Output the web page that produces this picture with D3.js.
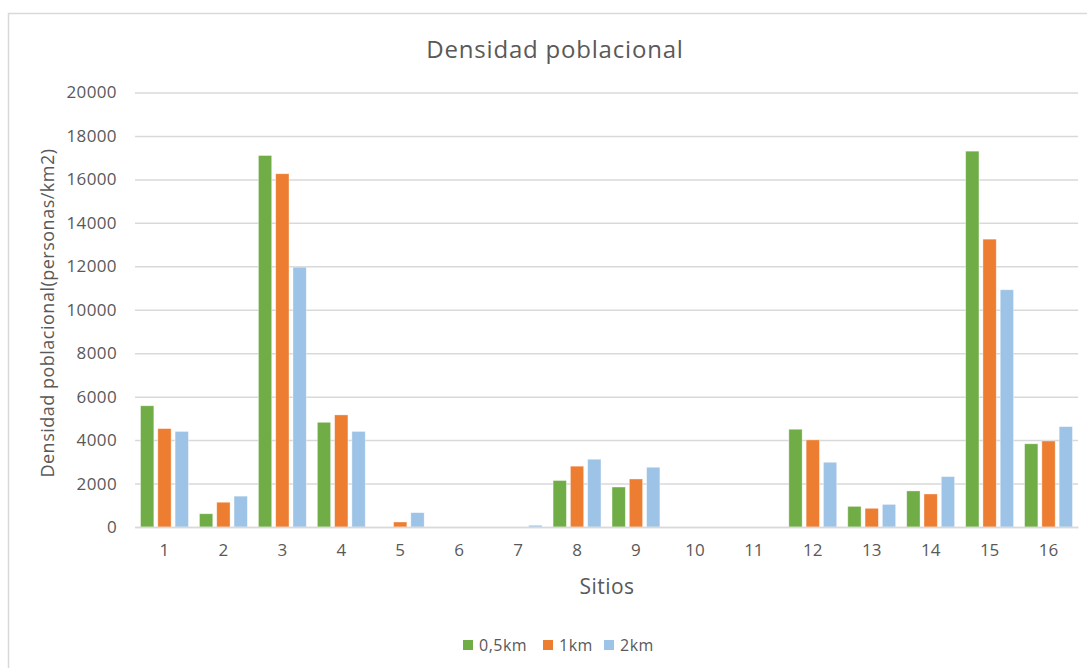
<!DOCTYPE html>
<html>
<head>
<meta charset="utf-8">
<script src="https://cdn.jsdelivr.net/npm/d3@7/dist/d3.min.js"></script>
<style>
  html, body { margin: 0; padding: 0; background: #fff; }
  svg { display: block; font-family: "Open Sans", "Noto Sans", sans-serif; }
</style>
</head>
<body>
<svg id="chart" width="1087" height="668"></svg>
<script>
// Sites on the x axis
const sitios = ["1","2","3","4","5","6","7","8","9","10","11","12","13","14","15","16"];
// Population density (personas/km2) within each buffer radius
const d05km = [5580, 610, 17100, 4820, 0, 0, 0, 2140, 1840, 0, 0, 4500, 950, 1660, 17300, 3830];
const d1km  = [4530, 1140, 16260, 5160, 230, 0, 0, 2800, 2210, 0, 0, 4010, 860, 1520, 13250, 3960];
const d2km  = [4400, 1420, 11960, 4400, 660, 0, 80, 3120, 2750, 0, 0, 2980, 1040, 2320, 10920, 4620];
const seriesNames = ["0,5km", "1km", "2km"];
const seriesColors = ["#70AD47", "#ED7D31", "#9DC3E6"];
const yTicks = [0, 2000, 4000, 6000, 8000, 10000, 12000, 14000, 16000, 18000, 20000];

const seriesValues = [d05km, d1km, d2km];
const rows = sitios.map((s, i) => ({ sitio: s, values: seriesValues.map(v => v[i]) }));

const svg = d3.select("#chart");
const textColor = "#595959";
const gridColor = "#D9D9D9";

// Chart frame
svg.append("rect")
  .attr("x", 8.5).attr("y", 13.5)
  .attr("width", 1090).attr("height", 670)
  .attr("fill", "#fff").attr("stroke", gridColor).attr("stroke-width", 1.5);

const plot = { left: 135, right: 1078, top: 92.5, bottom: 527 };

const x0 = d3.scaleBand().domain(sitios).range([plot.left, plot.right]).padding(0);
const x1 = d3.scaleBand().domain(seriesNames).range([0, x0.bandwidth()])
  .paddingInner(0.23).paddingOuter(0.32);
const y = d3.scaleLinear().domain([0, 20000]).range([plot.bottom, plot.top]);

// Horizontal gridlines and y tick labels
const yAxis = d3.axisLeft(y).tickValues(yTicks).tickFormat(d3.format("d"))
  .tickSize(-(plot.right - plot.left)).tickPadding(18);
const gy = svg.append("g").attr("transform", `translate(${plot.left},0)`).call(yAxis);
gy.select(".domain").remove();
gy.selectAll(".tick line").attr("stroke", gridColor).attr("stroke-width", 1.5);
gy.selectAll(".tick text").attr("fill", textColor).attr("font-size", 17)
  .attr("font-family", "'Open Sans', sans-serif").attr("letter-spacing", 0.4);

// Bars
const groups = svg.append("g").selectAll("g").data(rows).join("g")
  .attr("transform", d => `translate(${x0(d.sitio)},0)`);
groups.selectAll("rect")
  .data(d => d.values.map((v, k) => ({ key: seriesNames[k], value: v, color: seriesColors[k] })))
  .join("rect")
  .attr("x", d => x1(d.key))
  .attr("width", x1.bandwidth())
  .attr("y", d => y(d.value))
  .attr("height", d => y(0) - y(d.value))
  .attr("fill", d => d.color)
  .attr("stroke", "#fff").attr("stroke-opacity", 0.5).attr("stroke-width", 0.75);

// Category axis (baseline + labels)
const xAxis = d3.axisBottom(x0).tickSize(0).tickPadding(17);
const gx = svg.append("g").attr("transform", `translate(0,${plot.bottom})`).call(xAxis);
gx.select(".domain").attr("stroke", gridColor).attr("stroke-width", 1.5);
gx.selectAll(".tick text").attr("fill", textColor).attr("font-size", 17)
  .attr("font-family", "'Open Sans', sans-serif");

// Title
svg.append("text")
  .attr("x", 555).attr("y", 58)
  .attr("text-anchor", "middle")
  .attr("fill", textColor).attr("font-size", 24).attr("letter-spacing", 0.8)
  .text("Densidad poblacional");

// Axis titles
svg.append("text")
  .attr("transform", "translate(54,313) rotate(-90)")
  .attr("text-anchor", "middle")
  .attr("fill", textColor).attr("font-size", 18).attr("letter-spacing", 0.5)
  .text("Densidad poblacional(personas/km2)");

svg.append("text")
  .attr("x", 607).attr("y", 594)
  .attr("text-anchor", "middle")
  .attr("fill", textColor).attr("font-size", 21).attr("letter-spacing", 0.5)
  .text("Sitios");

// Legend
const legendItems = [
  { name: seriesNames[0], color: seriesColors[0], x: 463 },
  { name: seriesNames[1], color: seriesColors[1], x: 543 },
  { name: seriesNames[2], color: seriesColors[2], x: 604 }
];
const lg = svg.append("g").selectAll("g").data(legendItems).join("g")
  .attr("transform", d => `translate(${d.x},640)`);
lg.append("rect").attr("width", 10).attr("height", 10).attr("fill", d => d.color);
lg.append("text").attr("x", 16).attr("y", 11)
  .attr("fill", textColor).attr("font-size", 16).attr("letter-spacing", 0.5)
  .text(d => d.name);
</script>
</body>
</html>
